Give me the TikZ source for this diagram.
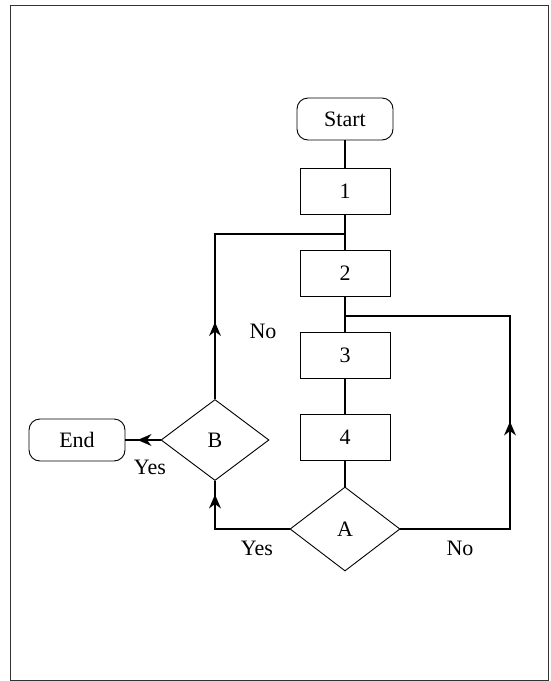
\documentclass[tikz,border=0pt]{standalone}
\usepackage{fontspec}
\setmainfont{Liberation Serif}
\usetikzlibrary{shapes.geometric,arrows.meta,decorations.markings}
\begin{document}
\begin{tikzpicture}[x=1pt,y=-1pt,
  every node/.style={font=\fontsize{22}{25}\selectfont},
  term/.style={draw,line width=0.9pt,rounded corners=11pt,minimum width=96pt,minimum height=42pt,inner sep=0pt},
  proc/.style={draw,line width=0.9pt,minimum width=90pt,minimum height=46pt,inner sep=0pt},
  dec/.style={draw,diamond,line width=0.9pt,inner sep=0pt},
  conn/.style={line width=2.2pt},
  midarrow/.style={postaction={decorate},decoration={markings,mark=at position #1 with {\fill (5pt,0pt) -- (-9pt,6pt) -- (-4.5pt,0pt) -- (-9pt,-6pt) -- cycle;}}},
  lbl/.style={inner sep=0pt}
]
\useasboundingbox (0,0) rectangle (551,681);
\draw[line width=0.9pt,black!80] (10,5) rectangle (548,680);

\node[term] (start) at (345,119) {Start};
\node[proc] (p1) at (345,191) {1};
\node[proc] (p2) at (345,273) {2};
\node[proc] (p3) at (345,355) {3};
\node[proc] (p4) at (345,437) {4};
\node[dec,minimum width=110pt,minimum height=84pt] (A) at (345,529) {A};
\node[dec,minimum width=108pt,minimum height=81pt] (B) at (215,440) {B};
\node[term] (end) at (77,440) {End};

\coordinate (j1) at (345,234);
\coordinate (j2) at (345,316);
\coordinate (ra) at (510,529);
\coordinate (la) at (215,529);

\draw[conn] (start) -- (p1);
\draw[conn] (p1) -- (p2);
\draw[conn] (p2) -- (p3);
\draw[conn] (p3) -- (p4);
\draw[conn] (p4) -- (A);
\draw[conn,midarrow=72pt] (B.north) -- (B.north |- j1) -- (j1);
\draw[conn,midarrow=212pt] (A.east) -- (ra) -- (ra |- j2) -- (j2);
\draw[conn,midarrow=104pt] (A.west) -- (la) -- (B.south);
\draw[conn,midarrow=18pt] (B.west) -- (end.east);

\node[lbl] (no1) at (263,331) {No};
\node[lbl] (yes1) at (150,467) {Yes};
\node[lbl] (yes2) at (257,548) {Yes};
\node[lbl] (no2) at (460,548) {No};
\end{tikzpicture}
\end{document}
